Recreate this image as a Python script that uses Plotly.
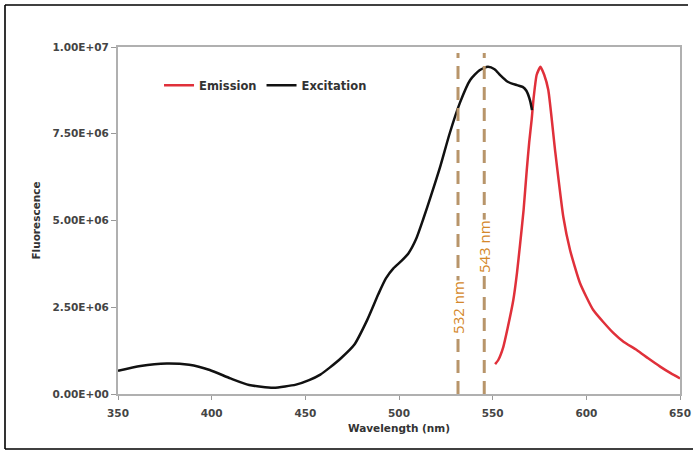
import plotly.graph_objects as go

# Excitation spectrum (nm, fluorescence)
exc_wl = [350, 362, 376, 388, 399, 410, 420, 433, 445, 452, 458, 463, 469, 476, 483, 489, 493, 497, 501, 505, 509, 513, 517, 522, 527, 532.5, 538, 543, 547.5, 551, 554, 558, 563, 566, 568, 570, 571]
exc_val = [0.67e6, 0.81e6, 0.88e6, 0.84e6, 0.69e6, 0.45e6, 0.26e6, 0.18e6, 0.27e6, 0.40e6, 0.56e6, 0.76e6, 1.03e6, 1.41e6, 2.13e6, 2.88e6, 3.33e6, 3.62e6, 3.82e6, 4.05e6, 4.45e6, 5.05e6, 5.70e6, 6.55e6, 7.50e6, 8.39e6, 9.05e6, 9.33e6, 9.43e6, 9.36e6, 9.19e6, 9.00e6, 8.90e6, 8.85e6, 8.74e6, 8.45e6, 8.18e6]

# Emission spectrum
emi_wl = [551.3, 553, 555.7, 558, 561, 563, 564.6, 566.5, 568.2, 569.5, 570.8, 571.8, 573.5, 575.5, 577.5, 579.7, 583.3, 587.7, 591.3, 596.6, 603.7, 614.4, 620, 626.9, 633, 639.4, 645, 650]
emi_val = [0.86e6, 0.98e6, 1.36e6, 1.90e6, 2.70e6, 3.50e6, 4.30e6, 5.30e6, 6.45e6, 7.25e6, 7.90e6, 8.50e6, 9.20e6, 9.43e6, 9.20e6, 8.76e6, 7.03e6, 5.11e6, 4.15e6, 3.20e6, 2.42e6, 1.76e6, 1.50e6, 1.27e6, 1.03e6, 0.79e6, 0.60e6, 0.45e6]

# Laser lines
laser_pos = [531.5, 545.5]
laser_labels = ["532 nm", "543 nm"]
laser_label_y = [2.48e6, 4.24e6]

x_ticks = [350, 400, 450, 500, 550, 600, 650]
y_ticks = [0, 2.5e6, 5.0e6, 7.5e6, 1.0e7]
y_tick_text = ["0.00E+00", "2.50E+06", "5.00E+06", "7.50E+06", "1.00E+07"]

fig = go.Figure()
fig.add_trace(go.Scatter(x=emi_wl, y=emi_val, mode="lines", name="Emission",
                         line=dict(color="#e0303a", width=2.5, shape="spline", smoothing=0.5)))
fig.add_trace(go.Scatter(x=exc_wl, y=exc_val, mode="lines", name="Excitation",
                         line=dict(color="#111111", width=2.5, shape="spline", smoothing=0.6)))

for xp, lab, ly in zip(laser_pos, laser_labels, laser_label_y):
    fig.add_shape(type="line", x0=xp, x1=xp, y0=0, y1=0.983, xref="x", yref="paper",
                  line=dict(color="#b8956a", width=3, dash="13px,8px"))
    fig.add_annotation(x=xp, y=ly, xref="x", yref="y", text=lab, textangle=-90,
                       showarrow=False, bgcolor="white", borderpad=0,
                       font=dict(family="Open Sans", size=15, color="#d4872a"))

# outer border (top, left, bottom; right side cropped in the original)
def px_x(p):
    return (p - 118) / 562

def px_y(p):
    return (394 - p) / 347

for (ax0, ay0, ax1, ay1) in [(5, 5, 688, 5), (5, 5, 5, 449), (5, 449, 700, 449)]:
    fig.add_shape(type="line", xref="paper", yref="paper",
                  x0=px_x(ax0), y0=px_y(ay0), x1=px_x(ax1), y1=px_y(ay1),
                  line=dict(color="black", width=1.6), layer="below")

fam = "DejaVu Sans"
tickfont = dict(family=fam, size=10.5, color="#444444")
fig.update_layout(
    width=693, height=451,
    margin=dict(l=118, r=13, t=47, b=57, autoexpand=False),
    paper_bgcolor="white", plot_bgcolor="white",
    showlegend=True,
    legend=dict(orientation="h", x=0.073, y=0.89, xanchor="left", yanchor="middle",
                font=dict(family=fam, size=11.5, color="#333333", weight="bold"),
                bgcolor="rgba(0,0,0,0)"),
    xaxis=dict(range=[350, 650], tickvals=x_ticks, ticktext=["<b>%d</b>" % t for t in x_ticks],
               ticks="outside", ticklen=4, ticklabelstandoff=4, automargin=False,
               tickcolor="#999999", showline=True, linecolor="#b0b0b0", linewidth=2,
               mirror=True, showgrid=False, zeroline=False,
               tickfont=tickfont,
               title=dict(text="<b>Wavelength (nm)</b>", font=dict(family=fam, size=10.5, color="#333333"), standoff=7)),
    yaxis=dict(range=[0, 1.0e7], tickvals=y_ticks, ticktext=["<b>%s</b>" % t for t in y_tick_text],
               ticks="outside", ticklen=5, tickcolor="#999999", showline=True, automargin=False,
               linecolor="#b0b0b0", linewidth=2, mirror=True, showgrid=False, zeroline=False,
               tickfont=tickfont,
               title=dict(text="<b>Fluorescence</b>", font=dict(family=fam, size=10.5, color="#333333"), standoff=10)),
)
fig.write_html("out.html", config={"displayModeBar": False},
               post_script="document.body.style.margin='0';document.body.style.overflow='hidden';")
